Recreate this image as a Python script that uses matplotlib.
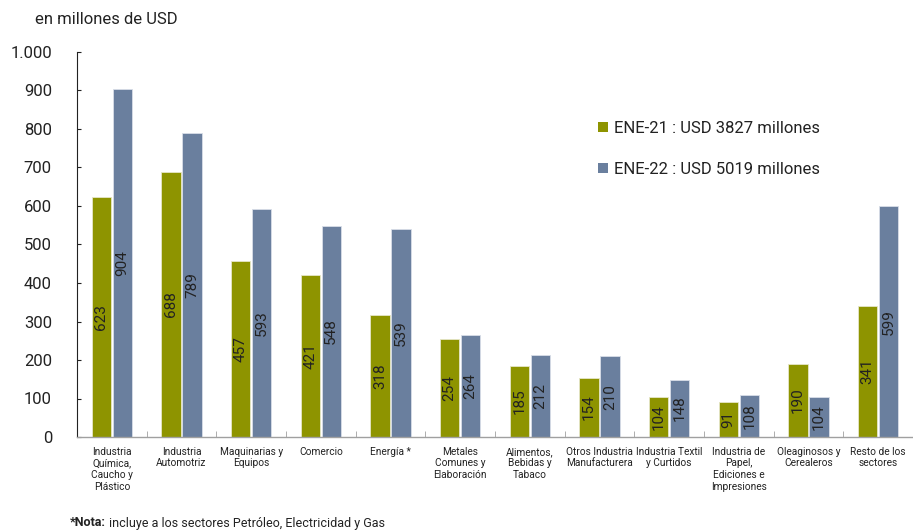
import matplotlib
matplotlib.use("Agg")
import matplotlib.pyplot as plt
import numpy as np
from matplotlib.ticker import FuncFormatter

plt.rcParams['font.family'] = ['Roboto', 'DejaVu Sans']

categories = [
    "Industria\nQuímica,\nCaucho y\nPlástico",
    "Industria\nAutomotriz",
    "Maquinarias y\nEquipos",
    "Comercio",
    "Energía *",
    "Metales\nComunes y\nElaboración",
    "Alimentos,\nBebidas y\nTabaco",
    "Otros Industria\nManufacturera",
    "Industria Textil\ny Curtidos",
    "Industria de\nPapel,\nEdiciones e\nImpresiones",
    "Oleaginosos y\nCerealeros",
    "Resto de los\nsectores",
]
ene21 = [623, 688, 457, 421, 318, 254, 185, 154, 104, 91, 190, 341]
ene22 = [904, 789, 593, 548, 539, 264, 212, 210, 148, 108, 104, 599]
label21 = "ENE-21 : USD 3827 millones"
label22 = "ENE-22 : USD 5019 millones"

c21 = "#8E9400"
c22 = "#6A7F9E"
txt = "#222222"

W, H = 913, 532
fig = plt.figure(figsize=(W / 100, H / 100), dpi=100)
ax = fig.add_axes([77 / W, (H - 437) / H, (913 - 77) / W, (437 - 52) / H])

x = np.arange(len(categories))
bw = 0.28
off = 0.15
b1 = ax.bar(x - off, ene21, bw, color=c21, edgecolor="#E6E6C8", linewidth=0.6, label=label21)
b2 = ax.bar(x + off, ene22, bw, color=c22, edgecolor="#D8DEE8", linewidth=0.6, label=label22)

for bars, vals in ((b1, ene21), (b2, ene22)):
    for r, v in zip(bars, vals):
        ax.text(r.get_x() + r.get_width() / 2, v / 2, str(v), rotation=90,
                ha="center", va="center", fontsize=11, color=txt)

ax.set_ylim(0, 1000)
ax.set_xlim(-0.5, 11.443)
ax.set_yticks(range(0, 1001, 100))
ax.yaxis.set_major_formatter(FuncFormatter(lambda v, p: f"{int(v):,}".replace(",", ".")))
ax.tick_params(axis="y", direction="in", length=3, labelsize=12, pad=18, colors=txt, width=0.8)
ax.set_xticks(x)
ax.set_xticklabels(categories, fontsize=7.3, color=txt, linespacing=1.2)
ax.tick_params(axis="x", length=0, pad=7)
ax.set_xticks(np.arange(-0.5, 12, 1), minor=True)
ax.tick_params(axis="x", which="minor", direction="in", length=4, color="#A0A0A0")

for s in ("top", "right"):
    ax.spines[s].set_visible(False)
ax.spines["left"].set_color("#222222")
ax.spines["left"].set_linewidth(0.8)
ax.spines["bottom"].set_color("#A0A0A0")
ax.spines["bottom"].set_linewidth(1.0)

fig.text(35 / W, 1 - 20 / H, "en millones de USD", fontsize=12, color=txt, va="center", ha="left")

leg = ax.legend(loc="upper left", bbox_to_anchor=(598 / W, 1 - 121 / H), bbox_transform=fig.transFigure,
                frameon=False, fontsize=12, handlelength=0.6, handleheight=0.6,
                handletextpad=0.35, labelspacing=1.55, borderaxespad=0, borderpad=0)
for t in leg.get_texts():
    t.set_color(txt)
for h in leg.legend_handles:
    h.set_edgecolor("none")

t1 = fig.text(70 / W, 1 - 523 / H, "*Nota:", fontsize=9, fontweight="bold", color=txt,
              va="center", ha="left")
fig.canvas.draw()
bb = t1.get_window_extent()
fig.text((bb.x1 + 3) / W, 1 - 523 / H, "incluye a los sectores Petróleo, Electricidad y Gas",
         fontsize=9, color=txt, va="center", ha="left")

fig.savefig("out.png", dpi=100)
